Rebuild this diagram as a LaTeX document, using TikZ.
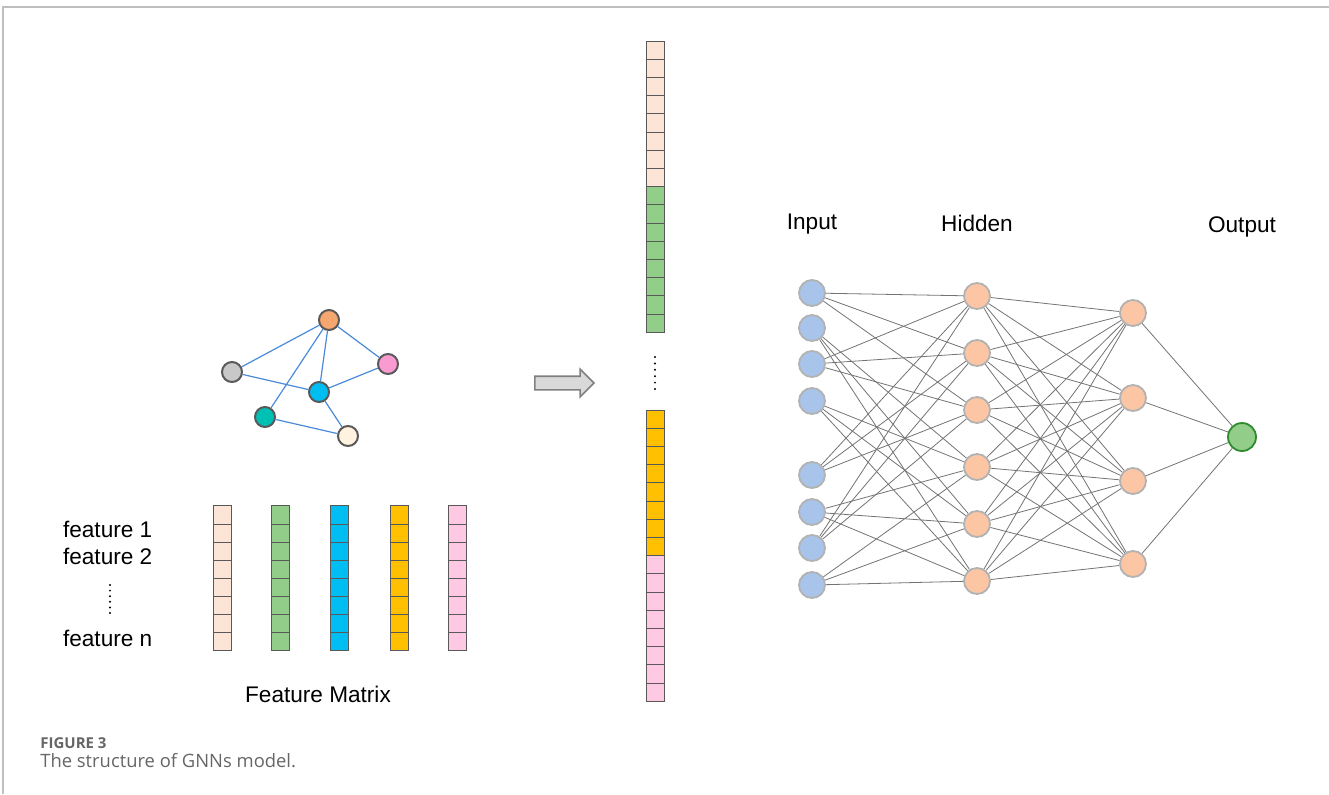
\documentclass[tikz,border=0pt]{standalone}
\usepackage{fontspec}
\setmainfont{Liberation Sans}
\newfontfamily\capfont{Open Sans}
\usepackage{tikz}
\usetikzlibrary{shapes.arrows}
\definecolor{peachc}{HTML}{FCE4D6}
\definecolor{greenc}{HTML}{93CD8A}
\definecolor{cyanc}{HTML}{00BEF2}
\definecolor{amberc}{HTML}{FFC000}
\definecolor{pinkc}{HTML}{FFC9E4}
\definecolor{edgeblue}{HTML}{4A8AD8}
\definecolor{nodeorange}{HTML}{F6A66F}
\definecolor{nodegray}{HTML}{C8C8C8}
\definecolor{nodepink}{HTML}{F99AD0}
\definecolor{nodeteal}{HTML}{00BFB3}
\definecolor{nodecream}{HTML}{FFF3E0}
\definecolor{inblue}{HTML}{A9C4EB}
\definecolor{hidpeach}{HTML}{FCC6A4}
\definecolor{outgreen}{HTML}{2E8B2E}

\begin{document}
\begin{tikzpicture}[x=0.5pt, y=-0.5pt,
    gnode/.style={circle, draw=black!65, line width=1pt, minimum size=10pt, inner sep=0pt},
    cell/.style={draw=black!65, line width=0.5pt, minimum width=9pt, minimum height=9.1pt, inner sep=0pt, outer sep=0pt},
    neuron/.style={circle, draw=black!30, line width=0.9pt, minimum size=13pt, inner sep=0pt},
    link/.style={black!55, line width=0.4pt},
    lbl/.style={font=\fontsize{11.3}{13}\selectfont}]
    \useasboundingbox (0,0) rectangle (1329,794);

    % page frame
    \draw[black!25, line width=0.6pt] (3,794) -- (3,7) -- (1329,7);

    % small input graph
    \node[gnode, fill=nodeorange] (ga) at (329, 320) {};
    \node[gnode, fill=nodegray] (gb) at (232, 372) {};
    \node[gnode, fill=nodepink] (gc) at (388, 364) {};
    \node[gnode, fill=cyanc] (gd) at (319, 392) {};
    \node[gnode, fill=nodeteal] (ge) at (265, 417) {};
    \node[gnode, fill=nodecream] (gf) at (348, 436) {};
    \foreach \u/\v in {ga/gb, ga/gc, ga/gd, ga/ge, gb/gd, gc/gd, gd/gf, ge/gf}
    \draw[edgeblue, line width=0.6pt] (\u) -- (\v);

    % feature matrix, one column per graph node
    \foreach \c/\x/\col in {1/222/peachc, 2/280.5/greenc, 3/339/cyanc, 4/399/amberc, 5/457/pinkc}
    \foreach \k in {0,...,7}
    \node[cell, fill=\col] (fm\c\k) at (\x, 515.05+18.1*\k) {};

    \node[lbl, anchor=west] (f1) at (56, 529) {feature 1};
    \node[lbl, anchor=west] (f2) at (56, 556) {feature 2};
    \node[lbl, anchor=west] (fn) at (56, 638) {feature n};
    \foreach \k in {0,...,5}
    \fill (110, 585+\k*5.6) circle (1.1);
    \node[lbl] (fmlabel) at (318, 694) {Feature Matrix};

    % block arrow
    \node[single arrow, draw=black!50, fill=black!15, line width=0.8pt, inner sep=0pt,
          minimum width=13pt, minimum height=29.5pt, single arrow head extend=3.5pt,
          inner ysep=3pt] (arr) at (561, 383) {};

    % stacked feature vector
    \foreach \k/\col in {0/peachc, 1/peachc, 2/peachc, 3/peachc, 4/peachc, 5/peachc, 6/peachc, 7/peachc,
                         8/greenc, 9/greenc, 10/greenc, 11/greenc, 12/greenc, 13/greenc, 14/greenc, 15/greenc}
    \node[cell, fill=\col] (va\k) at (655, 50.1+18.2*\k) {};
    \foreach \k in {0,...,5}
    \fill (655, 357+\k*6.4) circle (1.1);
    \foreach \k/\col in {0/amberc, 1/amberc, 2/amberc, 3/amberc, 4/amberc, 5/amberc, 6/amberc, 7/amberc,
                         8/pinkc, 9/pinkc, 10/pinkc, 11/pinkc, 12/pinkc, 13/pinkc, 14/pinkc, 15/pinkc}
    \node[cell, fill=\col] (vb\k) at (655, 419.1+18.2*\k) {};

    % network layers
    \foreach \i/\y in {1/293, 2/328, 3/364, 4/401, 5/475, 6/512, 7/548, 8/585}
    \node[neuron, fill=inblue] (in\i) at (812, \y) {};
    \foreach \i/\y in {1/296, 2/353, 3/410, 4/467, 5/524, 6/581}
    \node[neuron, fill=hidpeach] (hid\i) at (977, \y) {};
    \foreach \i/\y in {1/313, 2/398, 3/481, 4/564}
    \node[neuron, fill=hidpeach] (mid\i) at (1133, \y) {};
    \node[neuron, fill=greenc, draw=outgreen, minimum size=14pt] (out) at (1242, 437) {};

    % odd inputs feed the upper hidden half, even inputs the lower half
    \foreach \i in {1,3,5,7}
    \foreach \j in {1,2,3}
    \draw[link] (in\i) -- (hid\j);
    \foreach \i in {2,4,6,8}
    \foreach \j in {4,5,6}
    \draw[link] (in\i) -- (hid\j);
    \foreach \i in {1,...,6}
    \foreach \j in {1,...,4}
    \draw[link] (hid\i) -- (mid\j);
    \foreach \j in {1,...,4}
    \draw[link] (mid\j) -- (out);

    \node[lbl] (inlabel) at (812, 224) {Input};
    \node[lbl] (hidlabel) at (977, 223) {Hidden};
    \node[lbl] (outlabel) at (1242, 227) {Output};

    % caption
    \node[anchor=west, inner sep=0pt, text=black!60, font=\capfont\bfseries\fontsize{7.5}{9}\selectfont] (capnum) at (40, 743) {FIGURE 3};
    \node[anchor=west, inner sep=0pt, text=black!60, font=\capfont\fontsize{9.2}{11}\selectfont] (captext) at (40, 761) {The structure of GNNs model.};
\end{tikzpicture}
\end{document}
